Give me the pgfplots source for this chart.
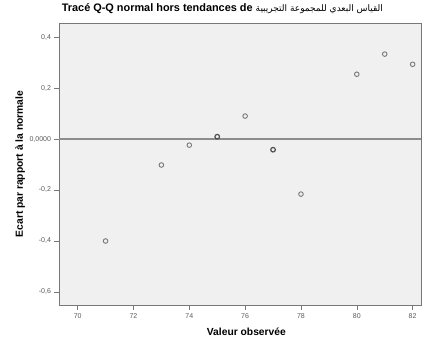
\documentclass[border=0pt]{standalone}
\usepackage{pgfplots}
\pgfplotsset{compat=1.18}
\usepackage{fontspec}
\setmainfont{Liberation Sans}
\newfontfamily\arabicfont[Script=Arabic]{DejaVu Sans}
\TeXXeTstate=1
\definecolor{bgc}{RGB}{240,240,240}
\definecolor{axc}{RGB}{120,120,120}
\definecolor{tkc}{RGB}{90,90,90}
\definecolor{mkc}{RGB}{120,120,120}
\definecolor{mkd}{RGB}{80,80,80}
\definecolor{zlc}{RGB}{140,140,140}
\begin{document}
\begin{tikzpicture}
\path[use as bounding box] (-59.5pt,-34pt) rectangle (362.5pt,305pt);
\begin{axis}[
  at={(0,0)}, anchor=south west,
  scale only axis, width=361.5pt, height=282pt,
  xmin=69.35, xmax=82.3, ymin=-0.651, ymax=0.455,
  axis background/.style={fill=bgc},
  axis line style={draw=axc, line width=0.8pt},
  tick pos=left, tick align=outside,
  major tick length=5pt,
  tick style={draw=axc, line width=0.6pt},
  xtick={70,72,74,76,78,80,82},
  ytick={-0.6,-0.4,-0.2,0,0.2,0.4},
  yticklabels={{-0,6},{-0,4},{-0,2},{0,0000},{0,2},{0,4}},
  xticklabels={70,72,74,76,78,80,82},
  ticklabel style={font=\fontsize{7}{8}\selectfont, text=tkc},
  xlabel={Valeur observée},
  ylabel={Ecart par rapport à la normale},
  label style={font=\fontsize{10.3}{11}\selectfont\bfseries},
  xlabel style={at={(axis description cs:0.517,-0.0957)}, anchor=center},
  ylabel style={at={(axis description cs:-0.109,0.5)}, anchor=center},
  title={Tracé Q-Q normal hors tendances de {\arabicfont\mdseries\fontsize{9}{10}\selectfont\beginR القياس البعدي للمجموعة التجريبية\endR}},
  title style={at={(axis description cs:0.006,1)}, anchor=base west, yshift=5pt, inner sep=0pt, font=\fontsize{10.9}{12}\selectfont\bfseries},
  clip=false,
]
\addplot[draw=zlc, line width=1.4pt, forget plot] coordinates {(69.35,0) (82.3,0)};
\addplot[only marks, mark=o, mark size=2.3pt, mark options={draw=mkc, line width=0.9pt}] coordinates {
(71,-0.40) (73,-0.102) (74,-0.024) (76,0.09) (78,-0.216) (80,0.254) (81,0.333) (82,0.293)
};
\addplot[only marks, mark=o, mark size=2.3pt, mark options={draw=mkd, line width=1.2pt}] coordinates {
(75,0.009) (77,-0.042)
};
\end{axis}
\end{tikzpicture}
\end{document}
